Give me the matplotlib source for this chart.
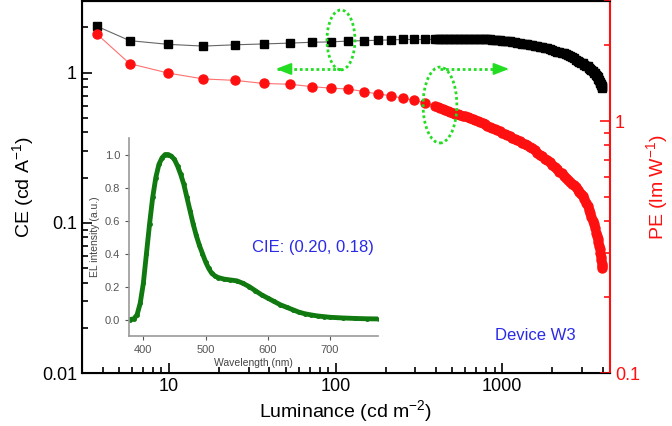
import numpy as np
import matplotlib
matplotlib.use('Agg')
import matplotlib.pyplot as plt
from matplotlib.patches import Ellipse

plt.rcParams['font.family'] = ['Liberation Sans', 'DejaVu Sans']
plt.rcParams['mathtext.fontset'] = 'custom'
plt.rcParams['mathtext.rm'] = 'Liberation Sans'
plt.rcParams['mathtext.it'] = 'Liberation Sans:italic'

# luminance (cd m-2), current efficiency (cd/A), power efficiency (lm/W)
luminance = [3.7, 5.8, 9.9, 16, 25, 37, 53, 72, 94, 119, 147, 180, 215, 255, 296, 344,
             395, 410, 425, 440, 455, 470, 487, 504, 522, 540, 559, 578, 598, 619, 641,
             663, 686, 710, 735, 761, 788, 815, 844, 873, 904, 935, 968, 1002, 1037,
             1073, 1110, 1149, 1189, 1231, 1274, 1318, 1364, 1412, 1461, 1512, 1565,
             1620, 1676, 1735, 1795, 1858, 1923, 1990, 2060, 2130, 2200, 2270, 2340,
             2410, 2480, 2550, 2620, 2690, 2760, 2830, 2900, 2970, 3040, 3110, 3180,
             3250, 3310, 3370, 3430, 3490, 3540, 3590, 3640, 3690, 3730, 3770, 3810,
             3845, 3880, 3910, 3935, 3955, 3970, 3980]
ce = [2.03, 1.63, 1.54, 1.50, 1.53, 1.55, 1.57, 1.59, 1.60, 1.62, 1.63, 1.64, 1.65, 1.66, 1.66, 1.66,
      1.66, 1.66, 1.67, 1.67, 1.67, 1.68, 1.68, 1.68, 1.68, 1.68, 1.68, 1.68, 1.68, 1.68, 1.68,
      1.68, 1.67, 1.67, 1.67, 1.67, 1.66, 1.66, 1.66, 1.65, 1.65, 1.64, 1.64, 1.63, 1.62,
      1.62, 1.61, 1.60, 1.59, 1.58, 1.57, 1.56, 1.55, 1.54, 1.53, 1.52, 1.51,
      1.50, 1.49, 1.48, 1.46, 1.45, 1.43, 1.42, 1.40, 1.38, 1.37, 1.35, 1.34,
      1.32, 1.30, 1.28, 1.26, 1.24, 1.22, 1.20, 1.18, 1.16, 1.15, 1.13, 1.11,
      1.10, 1.08, 1.06, 1.04, 1.02, 1.00, 0.99, 0.97, 0.95, 0.93, 0.91, 0.89,
      0.87, 0.85, 0.84, 0.82, 0.81, 0.80, 0.79]
pe = [2.21, 1.69, 1.55, 1.47, 1.45, 1.41, 1.40, 1.37, 1.35, 1.34, 1.31, 1.28, 1.26, 1.23, 1.21, 1.18,
      1.15, 1.14, 1.13, 1.12, 1.11, 1.10, 1.09, 1.08, 1.07, 1.065, 1.06, 1.05, 1.045, 1.04, 1.03,
      1.02, 1.01, 1.00, 0.99, 0.98, 0.97, 0.96, 0.95, 0.94, 0.93, 0.92, 0.91, 0.90, 0.89,
      0.88, 0.87, 0.86, 0.85, 0.84, 0.83, 0.82, 0.81, 0.80, 0.79, 0.78, 0.765,
      0.75, 0.735, 0.725, 0.71, 0.70, 0.685, 0.67, 0.66, 0.645, 0.63, 0.62, 0.605,
      0.595, 0.585, 0.575, 0.565, 0.555, 0.545, 0.535, 0.525, 0.515, 0.505, 0.49, 0.475,
      0.46, 0.445, 0.43, 0.415, 0.40, 0.39, 0.375, 0.36, 0.35, 0.34, 0.33, 0.32,
      0.31, 0.30, 0.29, 0.28, 0.272, 0.265, 0.26]

# EL spectrum for the inset
wavelength = [378, 385, 390, 395, 400, 405, 410, 415, 420, 425, 430, 435, 440, 445, 450,
              455, 460, 465, 470, 475, 480, 485, 490, 495, 500, 505, 510, 515, 520, 530,
              540, 550, 560, 570, 580, 590, 600, 610, 620, 630, 640, 650, 660, 670, 680,
              690, 700, 720, 740, 760, 778]
el = [0.00, 0.005, 0.03, 0.10, 0.22, 0.40, 0.58, 0.74, 0.86, 0.94, 0.98, 1.00, 1.00, 0.99, 0.97,
      0.93, 0.88, 0.82, 0.74, 0.66, 0.58, 0.51, 0.45, 0.40, 0.35, 0.31, 0.28, 0.265, 0.255, 0.245,
      0.24, 0.235, 0.22, 0.20, 0.175, 0.15, 0.13, 0.11, 0.09, 0.075, 0.06, 0.045, 0.035, 0.028, 0.022,
      0.018, 0.014, 0.010, 0.007, 0.005, 0.004]

red = '#ff1010'
green = '#22dd22'
blue = '#2a2ae6'

fig = plt.figure(figsize=(6.72, 4.26), dpi=100)
ax = fig.add_axes([0.122, 0.1244, 0.7857, 0.8736])
ax2 = ax.twinx()

ax.plot(luminance, ce, '-', color='#666666', lw=0.8, marker='s', ms=5.5,
        mfc='black', mec='black')
ax2.plot(luminance, pe, '-', color='#ff7070', lw=0.8, marker='o', ms=6.5,
         mfc=red, mec=red)

ax.set_xscale('log')
ax.set_yscale('log')
ax2.set_yscale('log')
ax.set_xlim(3, 4430)
ax.set_ylim(0.01, 3)
ax2.set_ylim(0.1, 3)

ax.set_xticks([10, 100, 1000])
ax.set_xticklabels(['10', '100', '1000'])
ax.set_yticks([0.01, 0.1, 1])
ax.set_yticklabels(['0.01', '0.1', '1'])
ax2.set_yticks([0.1, 1])
ax2.set_yticklabels(['0.1', '1'])

ax.tick_params(which='both', direction='in', labelsize=13, width=1.2)
ax.tick_params(which='major', length=7)
ax.tick_params(which='minor', length=4)
ax.tick_params(axis='y', which='both', right=False)
ax2.tick_params(which='both', direction='in', labelsize=13, colors=red, width=1.2)
ax2.tick_params(which='major', length=7)
ax2.tick_params(which='minor', length=4)

for s in ['left', 'bottom', 'top']:
    ax.spines[s].set_linewidth(1.5)
ax2.spines['right'].set_color(red)
ax2.spines['right'].set_linewidth(1.5)
ax.spines['right'].set_visible(False)

ax.set_xlabel('Luminance (cd m$^{-2}$)', fontsize=14, labelpad=2)
ax.set_ylabel('CE (cd A$^{-1}$)', fontsize=14, labelpad=4)
ax2.set_ylabel('PE (lm W$^{-1}$)', fontsize=14, color=red, labelpad=3)

# green guide ellipses and arrows
tr = ax2.transAxes
for cx, cy, w, h in [(0.4905, 0.895, 0.053, 0.161), (0.678, 0.720, 0.064, 0.204)]:
    ax2.add_patch(Ellipse((cx, cy), w, h, transform=tr, fill=False, ec=green,
                          lw=2, ls=(0, (1, 1)), zorder=5))
for x0, x1 in [(0.4905, 0.37), (0.678, 0.805)]:
    ax2.plot([x0, x1], [0.817, 0.817], transform=tr, color=green, lw=2,
             ls=(0, (1, 1)), zorder=5)
ax2.annotate('', xy=(0.362, 0.817), xytext=(0.392, 0.817), xycoords=tr, textcoords=tr,
             arrowprops=dict(arrowstyle='-|>,head_length=0.9,head_width=0.35',
                             color=green, lw=1.5), zorder=6)
ax2.annotate('', xy=(0.814, 0.817), xytext=(0.784, 0.817), xycoords=tr, textcoords=tr,
             arrowprops=dict(arrowstyle='-|>,head_length=0.9,head_width=0.35',
                             color=green, lw=1.5), zorder=6)

fig.text(252 / 672, 1 - 248 / 426, 'CIE: (0.20, 0.18)', color=blue, fontsize=12,
         ha='left', va='center')
fig.text(535 / 672, 1 - 335 / 426, 'Device W3', color=blue, fontsize=12,
         ha='center', va='center')

# inset with the EL spectrum
ins = fig.add_axes([0.192, 0.211, 0.3705, 0.465])
ins.set_facecolor('none')
ins.plot(wavelength, el, '-', color='#107a10', lw=3.5, marker='o', ms=2.5,
         mfc='#107a10', mec='#107a10')
ins.set_xlim(377, 777)
ins.set_ylim(-0.1, 1.1)
ins.set_xticks([400, 500, 600, 700])
ins.set_yticks([0.0, 0.2, 0.4, 0.6, 0.8, 1.0])
ins.set_yticklabels(['0.0', '0.2', '0.4', '0.6', '0.8', '1.0'])
for s in ['top', 'right']:
    ins.spines[s].set_visible(False)
for s in ['left', 'bottom']:
    ins.spines[s].set_color('#999999')
    ins.spines[s].set_linewidth(1.2)
ins.tick_params(labelsize=8, colors='#555555', length=3, width=0.8)
ins.set_xlabel('Wavelength (nm)', fontsize=7.5, color='#444444', labelpad=2)
ins.set_ylabel('EL intensity (a.u.)', fontsize=7.5, color='#444444', labelpad=3)

fig.savefig('out.png', dpi=100)
